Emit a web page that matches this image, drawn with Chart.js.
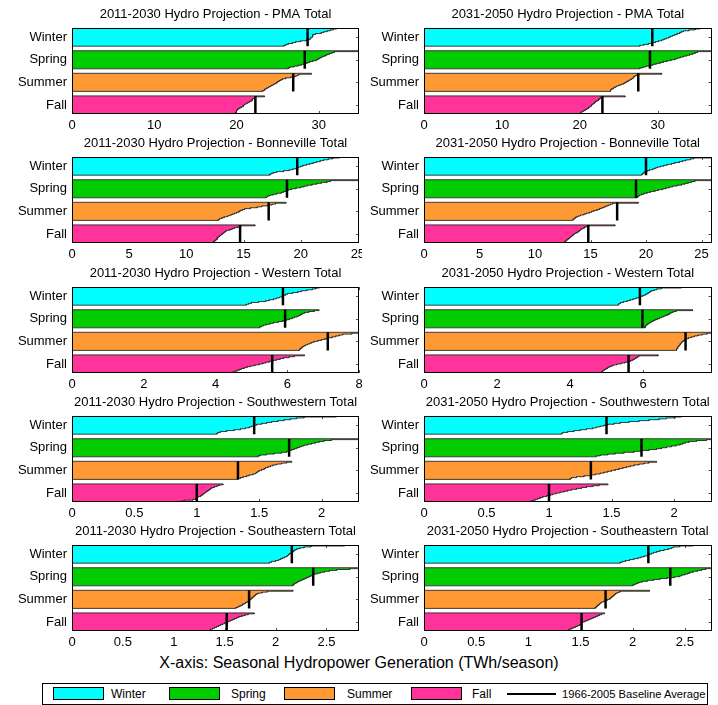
<!DOCTYPE html>
<html>
<head>
<meta charset="utf-8">
<script src="https://cdn.jsdelivr.net/npm/chart.js@4.4.0/dist/chart.umd.min.js"></script>
<style>
  body { margin: 0; background: #fff; font-family: "Liberation Sans", Arial, sans-serif; }
  #page { position: relative; width: 718px; height: 705px; overflow: hidden; }
  .panel { position: absolute; }
  #xtitle { position: absolute; left: 0; top: 654px; width: 718px; text-align: center; font-size: 16px; color: #000; }
  #legend { position: absolute; left: 42px; top: 683px; width: 666px; height: 22px; border: 1px solid #000; box-sizing: border-box; font-size: 12px; }
  #legend .sw { position: absolute; top: 3px; width: 51px; height: 13px; border: 1px solid #000; box-sizing: border-box; }
  #legend .ln { position: absolute; top: 9px; width: 49px; height: 2px; background: #000; }
  #legend .lb { position: absolute; top: 3px; line-height: 14px; white-space: nowrap; }
  #legend .lb.long { font-size: 11.2px; }
</style>
</head>
<body>
<div id="page">
  <div id="xtitle">X-axis: Seasonal Hydropower Generation (TWh/season)</div>
  <div id="legend"></div>
</div>
<script>
const seasons = ['Winter', 'Spring', 'Summer', 'Fall'];
const seasonColors = ['#00FFFF', '#00CC00', '#FF9933', '#FF3399'];

// yearly seasonal generation, sorted high -> low, rows: Winter, Spring, Summer, Fall
const pmaEarly = [
  [32.2, 31.8, 31.4, 31.0, 30.6, 30.3, 29.6, 29.3, 29.3, 29.2, 29.1, 29.0, 28.9, 28.5, 27.8, 27.2, 26.8, 26.3, 26.0, 25.8],
  [36.0, 31.9, 31.6, 31.3, 31.0, 30.8, 30.5, 30.3, 30.1, 29.9, 29.7, 29.3, 28.9, 28.6, 28.3, 27.9, 27.5, 27.0, 26.5, 26.3],
  [29.1, 27.6, 27.4, 27.1, 26.6, 26.0, 25.6, 25.4, 25.2, 25.0, 24.9, 24.7, 24.5, 24.3, 24.1, 23.9, 23.7, 23.5, 23.4, 23.2],
  [23.4, 22.3, 22.2, 22.0, 21.9, 21.8, 21.6, 21.4, 21.2, 21.0, 20.9, 20.8, 20.6, 20.4, 20.2, 20.1, 20.0, 20.0, 19.9, 19.8]
];
const pmaLate = [
  [35.4, 34.8, 34.0, 33.3, 33.0, 32.8, 32.5, 32.2, 31.9, 31.6, 31.4, 31.1, 30.8, 30.5, 30.1, 29.7, 29.2, 28.8, 28.2, 27.7],
  [38.0, 35.1, 34.8, 34.5, 34.1, 33.7, 33.3, 32.9, 32.5, 32.2, 31.7, 31.2, 30.7, 30.3, 29.8, 29.4, 28.9, 28.5, 28.1, 27.7],
  [30.5, 27.4, 27.2, 27.0, 26.9, 26.8, 26.6, 26.4, 26.2, 26.0, 25.8, 25.6, 25.3, 25.0, 24.7, 24.5, 24.3, 24.1, 24.0, 23.9],
  [25.8, 22.7, 22.6, 22.5, 22.4, 22.2, 22.0, 21.9, 21.8, 21.6, 21.5, 21.4, 21.2, 21.1, 20.9, 20.7, 20.5, 20.3, 20.1, 20.0]
];
const bonnevilleEarly = [
  [23.4, 22.8, 22.4, 22.0, 21.7, 21.4, 21.1, 20.8, 20.5, 20.2, 20.0, 19.8, 19.6, 19.3, 19.0, 18.5, 17.9, 17.6, 17.4, 17.3],
  [26.0, 22.6, 22.3, 21.8, 21.4, 21.0, 20.6, 20.3, 20.0, 19.6, 19.2, 18.9, 18.7, 18.5, 18.3, 17.9, 17.6, 17.3, 17.1, 17.0],
  [18.7, 17.8, 17.5, 17.1, 16.6, 16.2, 15.6, 15.1, 14.9, 14.7, 14.6, 14.4, 14.2, 14.0, 13.8, 13.6, 13.3, 13.1, 12.9, 12.8],
  [16.0, 14.7, 14.5, 14.2, 14.0, 13.8, 13.5, 13.4, 13.3, 13.2, 13.1, 13.0, 12.9, 12.8, 12.7, 12.7, 12.6, 12.5, 12.4, 12.3]
];
const bonnevilleLate = [
  [25.9, 24.3, 24.0, 23.6, 23.3, 23.0, 22.6, 22.3, 21.9, 21.6, 21.3, 21.0, 20.8, 20.6, 20.3, 20.1, 19.9, 19.8, 19.7, 19.6],
  [26.5, 24.4, 24.1, 23.8, 23.5, 23.2, 22.8, 22.4, 22.1, 21.8, 21.5, 21.1, 20.8, 20.4, 20.1, 19.8, 19.6, 19.4, 19.3, 19.2],
  [19.3, 17.0, 16.8, 16.6, 16.4, 16.2, 16.0, 15.8, 15.6, 15.3, 15.1, 14.9, 14.6, 14.4, 14.1, 13.9, 13.7, 13.6, 13.5, 13.4],
  [17.2, 14.7, 14.5, 14.4, 14.2, 14.1, 14.0, 13.9, 13.8, 13.6, 13.5, 13.4, 13.3, 13.2, 13.1, 13.0, 12.9, 12.8, 12.7, 12.6]
];
const westernEarly = [
  [6.90, 6.80, 6.70, 6.55, 6.40, 6.30, 6.15, 6.00, 5.95, 5.90, 5.85, 5.78, 5.70, 5.62, 5.50, 5.40, 5.20, 5.00, 4.92, 4.86],
  [6.88, 6.75, 6.60, 6.48, 6.42, 6.38, 6.34, 6.28, 6.20, 6.14, 6.06, 5.98, 5.88, 5.75, 5.62, 5.52, 5.42, 5.34, 5.28, 5.23],
  [8.30, 7.80, 7.55, 7.45, 7.35, 7.25, 7.15, 7.05, 6.95, 6.85, 6.75, 6.68, 6.62, 6.56, 6.50, 6.46, 6.42, 6.39, 6.36, 6.34],
  [6.48, 6.20, 6.05, 5.90, 5.80, 5.70, 5.60, 5.50, 5.40, 5.32, 5.22, 5.10, 4.98, 4.88, 4.80, 4.72, 4.66, 4.60, 4.52, 4.48]
];
const westernLate = [
  [7.05, 6.50, 6.37, 6.30, 6.22, 6.18, 6.14, 6.10, 6.06, 6.00, 5.94, 5.88, 5.80, 5.72, 5.64, 5.56, 5.46, 5.38, 5.34, 5.32],
  [7.35, 6.90, 6.82, 6.76, 6.72, 6.68, 6.62, 6.56, 6.50, 6.44, 6.38, 6.32, 6.27, 6.22, 6.18, 6.14, 6.11, 6.08, 6.06, 6.05],
  [8.10, 7.75, 7.62, 7.50, 7.40, 7.32, 7.24, 7.18, 7.14, 7.10, 7.07, 7.05, 7.03, 7.01, 6.99, 6.97, 6.95, 6.94, 6.92, 6.91],
  [6.41, 5.88, 5.84, 5.80, 5.76, 5.72, 5.66, 5.58, 5.50, 5.40, 5.28, 5.18, 5.12, 5.06, 5.02, 4.98, 4.94, 4.90, 4.88, 4.86]
];
const southwesternEarly = [
  [2.12, 1.86, 1.80, 1.75, 1.70, 1.65, 1.60, 1.56, 1.52, 1.48, 1.46, 1.44, 1.42, 1.39, 1.35, 1.30, 1.24, 1.19, 1.17, 1.16],
  [2.35, 2.08, 2.02, 1.98, 1.95, 1.92, 1.89, 1.86, 1.84, 1.82, 1.80, 1.78, 1.76, 1.74, 1.72, 1.68, 1.62, 1.56, 1.51, 1.49],
  [1.76, 1.72, 1.68, 1.64, 1.61, 1.59, 1.57, 1.55, 1.54, 1.52, 1.50, 1.49, 1.48, 1.47, 1.45, 1.42, 1.40, 1.37, 1.35, 1.33],
  [1.21, 1.18, 1.16, 1.14, 1.12, 1.11, 1.10, 1.09, 1.08, 1.07, 1.06, 1.05, 1.04, 1.03, 1.01, 1.00, 0.99, 0.97, 0.90, 0.87]
];
const southwesternLate = [
  [2.06, 2.01, 1.94, 1.88, 1.80, 1.72, 1.64, 1.57, 1.52, 1.47, 1.44, 1.41, 1.38, 1.35, 1.30, 1.25, 1.20, 1.15, 1.11, 1.10],
  [2.32, 2.26, 2.18, 2.12, 2.09, 2.07, 2.05, 2.02, 1.98, 1.94, 1.90, 1.86, 1.80, 1.74, 1.68, 1.60, 1.53, 1.47, 1.41, 1.38],
  [1.86, 1.80, 1.76, 1.72, 1.68, 1.65, 1.62, 1.59, 1.56, 1.53, 1.50, 1.47, 1.44, 1.41, 1.37, 1.33, 1.28, 1.22, 1.18, 1.17],
  [1.47, 1.40, 1.35, 1.30, 1.26, 1.22, 1.18, 1.15, 1.12, 1.09, 1.06, 1.03, 1.01, 0.98, 0.95, 0.93, 0.91, 0.89, 0.87, 0.85]
];
const southeasternEarly = [
  [2.68, 2.35, 2.28, 2.24, 2.21, 2.19, 2.18, 2.17, 2.16, 2.14, 2.13, 2.12, 2.11, 2.09, 2.07, 2.05, 2.03, 2.00, 1.96, 1.94],
  [2.90, 2.73, 2.60, 2.53, 2.48, 2.44, 2.41, 2.38, 2.36, 2.34, 2.32, 2.30, 2.28, 2.26, 2.24, 2.22, 2.21, 2.19, 2.18, 2.17],
  [2.17, 1.92, 1.87, 1.83, 1.81, 1.80, 1.79, 1.78, 1.77, 1.76, 1.75, 1.74, 1.73, 1.71, 1.70, 1.68, 1.67, 1.65, 1.63, 1.61],
  [1.79, 1.73, 1.70, 1.67, 1.64, 1.62, 1.60, 1.58, 1.56, 1.54, 1.52, 1.50, 1.48, 1.46, 1.44, 1.42, 1.40, 1.38, 1.36, 1.35]
];
const southeasternLate = [
  [2.58, 2.45, 2.39, 2.37, 2.34, 2.30, 2.26, 2.23, 2.20, 2.18, 2.16, 2.14, 2.11, 2.08, 2.05, 2.01, 1.97, 1.93, 1.90, 1.88],
  [2.80, 2.70, 2.66, 2.62, 2.58, 2.55, 2.53, 2.50, 2.47, 2.45, 2.40, 2.33, 2.26, 2.20, 2.14, 2.09, 2.06, 2.04, 2.02, 2.00],
  [2.16, 1.88, 1.86, 1.84, 1.83, 1.82, 1.81, 1.80, 1.79, 1.78, 1.76, 1.74, 1.72, 1.70, 1.69, 1.68, 1.67, 1.66, 1.65, 1.64],
  [1.73, 1.70, 1.68, 1.66, 1.64, 1.62, 1.60, 1.58, 1.56, 1.54, 1.52, 1.51, 1.50, 1.49, 1.47, 1.45, 1.43, 1.41, 1.39, 1.38]
];

// 1966-2005 baseline averages (Winter, Spring, Summer, Fall)
const pmaBase = [28.65, 28.3, 26.9, 22.3];
const pmaBaseLate = [29.3, 29.0, 27.5, 22.9];
const bonnevilleBase = [19.7, 18.8, 17.2, 14.7];
const bonnevilleBaseLate = [20.0, 19.1, 17.4, 14.8];
const westernBase = [5.88, 5.94, 7.13, 5.58];
const westernBaseLate = [5.91, 5.98, 7.16, 5.60];
const southwesternBase = [1.46, 1.74, 1.33, 1.00];
const southwesternBaseLate = [1.46, 1.74, 1.335, 1.00];
const southeasternBase = [2.16, 2.37, 1.74, 1.52];
const southeasternBaseLate = [2.15, 2.36, 1.74, 1.51];

const panels = [
  { title: '2011-2030 Hydro Projection - PMA Total', values: pmaEarly, base: pmaBase, max: 34.9, step: 10 },
  { title: '2031-2050 Hydro Projection - PMA Total', values: pmaLate, base: pmaBaseLate, max: 36.9, step: 10 },
  { title: '2011-2030 Hydro Projection - Bonneville Total', values: bonnevilleEarly, base: bonnevilleBase, max: 25.1, step: 5 },
  { title: '2031-2050 Hydro Projection - Bonneville Total', values: bonnevilleLate, base: bonnevilleBaseLate, max: 25.9, step: 5 },
  { title: '2011-2030 Hydro Projection - Western Total', values: westernEarly, base: westernBase, max: 8, step: 2 },
  { title: '2031-2050 Hydro Projection - Western Total', values: westernLate, base: westernBaseLate, max: 7.87, step: 2 },
  { title: '2011-2030 Hydro Projection - Southwestern Total', values: southwesternEarly, base: southwesternBase, max: 2.3, step: 0.5 },
  { title: '2031-2050 Hydro Projection - Southwestern Total', values: southwesternLate, base: southwesternBaseLate, max: 2.3, step: 0.5 },
  { title: '2011-2030 Hydro Projection - Southeastern Total', values: southeasternEarly, base: southeasternBase, max: 2.82, step: 0.5 },
  { title: '2031-2050 Hydro Projection - Southeastern Total', values: southeasternLate, base: southeasternBaseLate, max: 2.755, step: 0.5 }
];

const FONT = 'Liberation Sans, Arial, sans-serif';
const ROWS = 20, GAP = 5, TOTAL = 4 * ROWS + 3 * GAP;
const CANVAS_H = 140;

// staircase outline of one season band, one step per year
function bandPoints(vals, start) {
  const pts = [{ x: 0, y: start }];
  vals.forEach((v, i) => {
    pts.push({ x: v, y: start + i });
    pts.push({ x: v, y: start + i + 1 });
  });
  pts.push({ x: 0, y: start + vals.length });
  return pts;
}

const framePlugin = {
  id: 'frame',
  beforeDatasetsDraw(chart) {
    const { ctx, chartArea: a, scales: { x, y } } = chart;
    ctx.save();
    ctx.strokeStyle = '#555';
    ctx.lineWidth = 1;
    ctx.beginPath();
    x.ticks.forEach(t => {
      const px = Math.round(x.getPixelForValue(t.value)) + 0.5;
      ctx.moveTo(px, a.bottom); ctx.lineTo(px, a.bottom - 3);
      ctx.moveTo(px, a.top); ctx.lineTo(px, a.top + 3);
    });
    y.ticks.forEach(t => {
      const py = Math.round(y.getPixelForValue(t.value)) + 0.5;
      ctx.moveTo(a.right, py); ctx.lineTo(a.right - 3, py);
      ctx.moveTo(a.left, py); ctx.lineTo(a.left + 3, py);
    });
    ctx.stroke();
    ctx.restore();
  },
  afterDatasetsDraw(chart) {
    const { ctx, chartArea: a } = chart;
    ctx.save();
    ctx.strokeStyle = '#000';
    ctx.lineWidth = 1;
    const l = Math.round(a.left) + 0.5, t = Math.round(a.top) + 0.5;
    const r = Math.round(a.right) - 0.5, b = Math.round(a.bottom) - 0.5;
    ctx.strokeRect(l, t, r - l, b - t);
    ctx.restore();
  }
};

const page = document.getElementById('page');

panels.forEach((p, i) => {
  const col = i % 2, row = Math.floor(i / 2);
  const w = col === 0 ? 362 : 356;
  const div = document.createElement('div');
  div.className = 'panel';
  div.style.left = (col === 0 ? 0 : 362) + 'px';
  div.style.top = Math.round(129.25 * row) + 'px';
  const canvas = document.createElement('canvas');
  canvas.width = w;
  canvas.height = CANVAS_H;
  div.appendChild(canvas);
  page.appendChild(div);

  const datasets = [];
  seasons.forEach((s, k) => {
    const start = k * (ROWS + GAP);
    datasets.push({
      label: s + ' baseline',
      data: [{ x: p.base[k], y: start }, { x: p.base[k], y: start + ROWS }],
      borderColor: '#000',
      borderWidth: 2.5,
      pointRadius: 0,
      fill: false,
      order: 0
    });
    datasets.push({
      label: s,
      data: bandPoints(p.values[k], start),
      borderColor: 'rgba(40,40,40,0.9)',
      borderWidth: 1,
      backgroundColor: seasonColors[k],
      pointRadius: 0,
      tension: 0,
      fill: 'origin',
      order: 1
    });
  });

  new Chart(canvas, {
    type: 'line',
    data: { datasets },
    options: {
      indexAxis: 'y',
      responsive: false,
      animation: false,
      layout: { padding: { left: 0, right: col === 0 ? 3 : 6.5, top: 0, bottom: 0 } },
      plugins: {
        legend: { display: false },
        tooltip: { enabled: false },
        title: {
          display: true,
          text: p.title,
          fullSize: false,
          color: '#000',
          font: { family: FONT, size: 13, weight: 'normal' },
          padding: { top: 6.5, bottom: 6 }
        }
      },
      scales: {
        x: {
          type: 'linear',
          min: 0,
          max: p.max,
          grid: { display: false, drawTicks: false },
          border: { display: false },
          ticks: {
            stepSize: p.step,
            includeBounds: false,
            autoSkip: false,
            maxRotation: 0,
            padding: 4,
            color: '#000',
            font: { family: FONT, size: 13 },
            callback: v => String(+v.toFixed(2))
          },
          afterFit(scale) {
            scale.height = CANVAS_H - 114;
            scale.paddingLeft = 0;
            scale.paddingRight = 0;
          }
        },
        y: {
          type: 'linear',
          min: 0,
          max: TOTAL,
          reverse: true,
          grid: { display: false, drawTicks: false },
          border: { display: false },
          afterBuildTicks(scale) {
            scale.ticks = seasons.map((s, k) => ({ value: k * (ROWS + GAP) + ROWS / 2 }));
          },
          ticks: {
            padding: 5,
            color: '#000',
            font: { family: FONT, size: 13 },
            callback: v => seasons[Math.round((v - ROWS / 2) / (ROWS + GAP))]
          },
          afterFit(scale) {
            scale.width = col === 0 ? 72 : 62;
          }
        }
      }
    },
    plugins: [framePlugin]
  });
});

// legend below the panels
const legend = document.getElementById('legend');
const legendItems = [
  { label: 'Winter', color: seasonColors[0], sx: 10, tx: 68 },
  { label: 'Spring', color: seasonColors[1], sx: 126, tx: 188 },
  { label: 'Summer', color: seasonColors[2], sx: 241, tx: 304 },
  { label: 'Fall', color: seasonColors[3], sx: 368, tx: 429 },
  { label: '1966-2005 Baseline Average', color: null, sx: 464, tx: 519 }
];
legendItems.forEach(it => {
  const mark = document.createElement('div');
  mark.className = it.color ? 'sw' : 'ln';
  mark.style.left = it.sx + 'px';
  if (it.color) mark.style.background = it.color;
  legend.appendChild(mark);
  const lb = document.createElement('div');
  lb.className = it.color ? 'lb' : 'lb long';
  lb.style.left = it.tx + 'px';
  lb.textContent = it.label;
  legend.appendChild(lb);
});
</script>
</body>
</html>
